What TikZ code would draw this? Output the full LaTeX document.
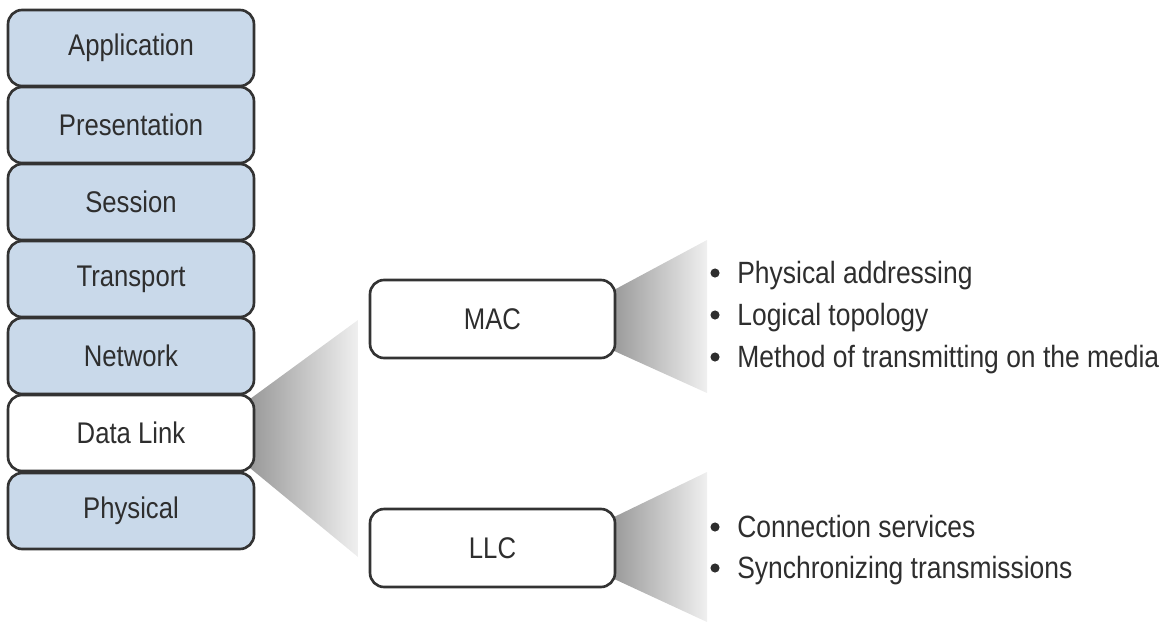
\documentclass[tikz,border=0pt]{standalone}
\usepackage{fontspec}
\setmainfont{Liberation Sans}[FakeStretch=0.86]
\definecolor{layerblue}{HTML}{C9D9EA}
\definecolor{boxline}{HTML}{333333}
\definecolor{inktext}{HTML}{2E2E2E}
\begin{document}
\begin{tikzpicture}[x=0.02cm,y=-0.02cm,
  layerbox/.style={draw=boxline, line width=1.5pt, rounded corners=8pt,
    fill=layerblue, minimum width=4.92cm, minimum height=1.52cm,
    inner sep=0pt, text=inktext, font=\fontsize{17}{20}\selectfont},
  activebox/.style={layerbox, fill=white},
  sublayer/.style={layerbox, fill=white, minimum width=4.9cm, minimum height=1.56cm},
  wedge/.style={left color=black!40, right color=black!6, draw=none},
  item/.style={anchor=base west, inner sep=0pt, text=inktext,
    font=\fontsize{17.5}{20}\selectfont},
  dot/.style={fill=inktext, draw=none}
]
\useasboundingbox (0,0) rectangle (1162,622);

% fan-out shading between the layers
\shade[wedge] (250,399) -- (358,320) -- (358,557) -- (250,468) -- cycle;
\shade[wedge] (612,291) -- (707,240) -- (707,393) -- (612,350) -- cycle;
\shade[wedge] (612,518) -- (707,472) -- (707,622) -- (612,578) -- cycle;

% OSI stack
\node[layerbox]  (app)  at (131,48)  {Application};
\node[layerbox]  (pres) at (131,125) {Presentation};
\node[layerbox]  (sess) at (131,202) {Session};
\node[layerbox]  (trans) at (131,279) {Transport};
\node[layerbox]  (net)  at (131,356) {Network};
\node[activebox] (dl)   at (131,433) {Data Link};
\node[layerbox]  (phys) at (131,511) {Physical};

% data link sublayers
\node[sublayer] (mac) at (492.5,319) {MAC};
\node[sublayer] (llc) at (492.5,548) {LLC};

% MAC functions
\node[item] (m1) at (737,283) {Physical addressing};
\node[item] (m2) at (737,325) {Logical topology};
\node[item] (m3) at (737,367) {Method of transmitting on the media};
% LLC functions
\node[item] (l1) at (737,537) {Connection services};
\node[item] (l2) at (737,578) {Synchronizing transmissions};

\foreach \n in {m1,m2,m3,l1,l2}
  \fill[dot] ([xshift=-0.44cm,yshift=0.2cm]\n.base west) circle (2.6pt);
\end{tikzpicture}
\end{document}
